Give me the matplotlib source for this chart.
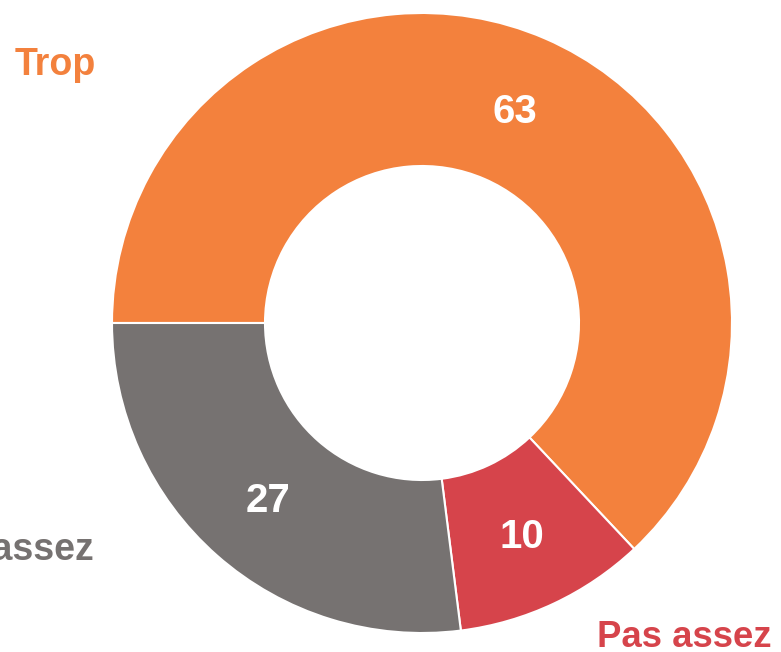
import matplotlib
matplotlib.use("Agg")
import matplotlib.pyplot as plt
import numpy as np

categories = ["Trop", "Pas assez", "Juste assez"]
values = [63, 10, 27]
colors = ["#F3813D", "#D6444B", "#767271"]

W, H = 781, 652
fig = plt.figure(figsize=(W / 100, H / 100), dpi=100)
ax = fig.add_axes([0, 0, 1, 1])

cx, cy = 422, H - 323
R, r_in = 310, 157
wedges, _ = ax.pie(values, colors=colors, startangle=180, counterclock=False,
                   center=(cx, cy), radius=R, frame=True,
                   wedgeprops=dict(width=R - r_in, edgecolor="white", linewidth=1.5))
ax.set_xlim(0, W)
ax.set_ylim(0, H)
ax.set_aspect("equal")
ax.axis("off")

font = ["Liberation Sans", "DejaVu Sans"]
rm = (R + r_in) / 2
for w, v in zip(wedges, values):
    ang = np.deg2rad((w.theta1 + w.theta2) / 2)
    ax.text(cx + rm * np.cos(ang), cy + rm * np.sin(ang) - 3, str(v), color="white",
            fontsize=29, fontweight="bold", family=font, ha="center", va="center")

ax.text(15, H - 75, categories[0], color=colors[0], fontsize=27, fontweight="bold",
        family=font, ha="left", va="baseline")
ax.text(597, H - 647, categories[1], color=colors[1], fontsize=26.3, fontweight="bold",
        family=font, ha="left", va="baseline")
ax.text(94, H - 560, categories[2], color=colors[2], fontsize=27, fontweight="bold",
        family=font, ha="right", va="baseline")

fig.savefig("out.png", dpi=100)
